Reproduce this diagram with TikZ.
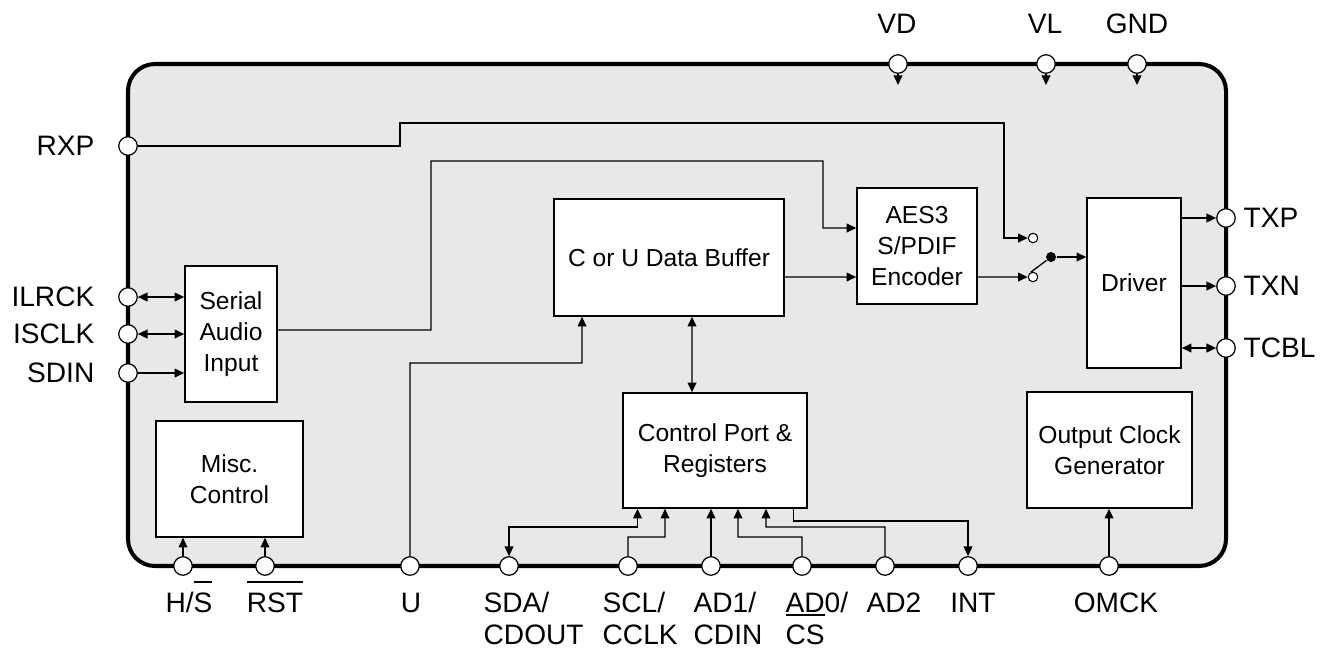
\documentclass[tikz,border=0pt]{standalone}
\usepackage{fontspec}
\setmainfont{Liberation Sans}
\usetikzlibrary{arrows.meta}

\definecolor{chipgray}{RGB}{232,232,232}
\newsavebox\ovbox
\newcommand{\ovbar}[1]{\sbox\ovbox{#1}\rlap{\rule[1.02em]{\wd\ovbox}{0.07em}}\usebox\ovbox}

\tikzset{
  blk/.style={draw, fill=white, line width=0.9pt, align=center, font=\fontsize{14}{17.6}\selectfont},
  pin/.style={circle, draw, fill=white, line width=0.7pt, inner sep=0pt, minimum size=0.37cm},
  swpin/.style={circle, draw, fill=white, line width=0.6pt, inner sep=0pt, minimum size=0.19cm},
  pinlbl/.style={inner sep=0pt, font=\fontsize{16}{18.7}\selectfont},
}

\begin{document}
\begin{tikzpicture}[x=0.02cm, y=-0.02cm, line width=0.75pt, >={Triangle[length=5.5pt,width=5pt]}]
    \useasboundingbox (0,0) rectangle (1324,650);

    % chip outline
    \draw[line width=2.3pt, fill=chipgray, rounded corners=0.54cm] (128,64) rectangle (1226,566);

    % pins
    \node[pin] (rxp) at (128,146) {};
    \node[pin] (ilrck) at (128,297) {};
    \node[pin] (isclk) at (128,334) {};
    \node[pin] (sdin) at (128,373) {};
    \node[pin] (vd) at (898,64) {};
    \node[pin] (vl) at (1046,64) {};
    \node[pin] (gnd) at (1137,64) {};
    \node[pin] (txp) at (1226,218) {};
    \node[pin] (txn) at (1226,286) {};
    \node[pin] (tcbl) at (1226,348) {};
    \node[pin] (hs) at (183,566) {};
    \node[pin] (rst) at (265,566) {};
    \node[pin] (u) at (410,566) {};
    \node[pin] (sda) at (509,566) {};
    \node[pin] (scl) at (628,566) {};
    \node[pin] (ad1) at (711,566) {};
    \node[pin] (ad0) at (802,566) {};
    \node[pin] (ad2) at (885,566) {};
    \node[pin] (int) at (968,566) {};
    \node[pin] (omck) at (1109,566) {};

    % pin labels
    \node[pinlbl, anchor=east] (lrxp) at (95,146) {RXP};
    \node[pinlbl, anchor=east] (lilrck) at (95,297) {ILRCK};
    \node[pinlbl, anchor=east] (lisclk) at (95,334) {ISCLK};
    \node[pinlbl, anchor=east] (lsdin) at (95,373) {SDIN};
    \node[pinlbl, anchor=base] (lvd) at (897,33) {VD};
    \node[pinlbl, anchor=base] (lvl) at (1045,33) {VL};
    \node[pinlbl, anchor=base] (lgnd) at (1137,33) {GND};
    \node[pinlbl, anchor=west] (ltxp) at (1243,218) {TXP};
    \node[pinlbl, anchor=west] (ltxn) at (1243,286) {TXN};
    \node[pinlbl, anchor=west] (ltcbl) at (1243,348) {TCBL};
    \node[pinlbl, anchor=base] (lhs) at (189,612) {H/\ovbar{S}};
    \node[pinlbl, anchor=base] (lrst) at (275,612) {\ovbar{RST}};
    \node[pinlbl, anchor=base] (lu) at (411,612) {U};
    \node[pinlbl, anchor=north west, align=left] (lsda) at (483,591) {SDA/\\CDOUT};
    \node[pinlbl, anchor=north west, align=left] (lscl) at (602,591) {SCL/\\CCLK};
    \node[pinlbl, anchor=north west, align=left] (lad1) at (693,591) {AD1/\\CDIN};
    \node[pinlbl, anchor=north west, align=left] (lad0) at (785,591) {AD0/\\\ovbar{CS}};
    \node[pinlbl, anchor=base] (lad2) at (894,612) {AD2};
    \node[pinlbl, anchor=base] (lint) at (973,612) {INT};
    \node[pinlbl, anchor=base] (lomck) at (1116,612) {OMCK};

    % blocks
    \node[blk, minimum width=1.84cm, minimum height=2.72cm] (sai) at (231,334) {Serial\\Audio\\Input};
    \node[blk, minimum width=2.94cm, minimum height=2.32cm] (misc) at (229.5,479) {Misc.\\Control};
    \node[blk, minimum width=4.6cm, minimum height=2.34cm] (buf) at (669,257.5) {C or U Data Buffer};
    \node[blk, minimum width=2.4cm, minimum height=2.32cm] (enc) at (917,246) {AES3\\S/PDIF\\Encoder};
    \node[blk, minimum width=1.88cm, minimum height=3.4cm] (drv) at (1134,283) {Driver};
    \node[blk, minimum width=3.68cm, minimum height=2.3cm] (ctl) at (715,450.5) {Control Port \&\\Registers};
    \node[blk, minimum width=3.3cm, minimum height=2.32cm] (ocg) at (1109.5,450) {Output Clock\\Generator};

    % output select switch
    \node[swpin] (swa) at (1033,238) {};
    \node[swpin] (swb) at (1033,277) {};
    \node[circle, fill, inner sep=0pt, minimum size=0.2cm] (dot) at (1051,257) {};

    % supplies
    \draw[->] (vd) -- ++(0,21);
    \draw[->] (vl) -- ++(0,21);
    \draw[->] (gnd) -- ++(0,21);

    % serial audio port
    \draw[<->] (ilrck) -- (sai.west |- ilrck);
    \draw[<->] (isclk) -- (sai.west |- isclk);
    \draw[->] (sdin) -- (sai.west |- sdin);
    \draw[->] ([yshift=0.08cm]sai.east) -- (431,330) |- (823,161) |- ([yshift=0.36cm]enc.west);

    % receiver bypass
    \draw[->] (rxp) -- (400,146) -- (400,123) -| (1004,200) |- (swa);

    % transmit path
    \draw[->] ([yshift=-0.39cm]buf.east) -- ([yshift=-0.62cm]enc.west);
    \draw[->] ([yshift=-0.62cm]enc.east) -- (swb);
    \draw (swb.115) -- (dot);
    \draw[->] (dot) -- (drv.west |- dot);
    \draw[->] (drv.east |- txp) -- (txp);
    \draw[->] (drv.east |- txn) -- (txn);
    \draw[<->] (drv.east |- tcbl) -- (tcbl);

    % misc control
    \draw[->] (hs) -- (misc.south -| hs);
    \draw[->] (rst) -- (misc.south -| rst);

    % U and control port
    \draw[->] (u) |- (582,363) -- ([xshift=-1.74cm]buf.south);
    \draw[<->] ([xshift=0.46cm]buf.south) -- ([xshift=-0.46cm]ctl.north);
    \draw[<->] ([xshift=-1.55cm]ctl.south) |- (509,527) -- (sda);
    \draw[->] (scl) |- (665,537) -- ([xshift=-1cm]ctl.south);
    \draw[->] (ad1) -- (ad1 |- ctl.south);
    \draw[->] (ad0) |- (738,537) -- ([xshift=0.46cm]ctl.south);
    \draw[->] (ad2) |- (766,527) -- ([xshift=1.02cm]ctl.south);
    \draw[->] ([xshift=1.57cm]ctl.south) |- (968,521) -- (int);

    % output clock
    \draw[->] (omck) -- (omck |- ocg.south);
\end{tikzpicture}
\end{document}
